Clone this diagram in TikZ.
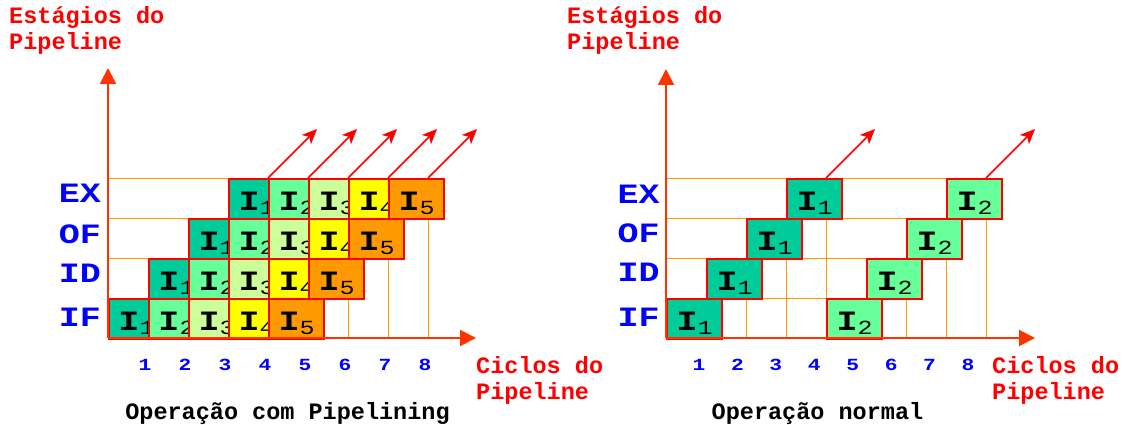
\documentclass[tikz,border=0pt]{standalone}
\usepackage{fontspec}
\setmainfont{Liberation Mono}
\newfontfamily\widemono{Liberation Mono}[FakeStretch=1.25]
\usetikzlibrary{arrows.meta}
\definecolor{axisc}{HTML}{FF3300}
\definecolor{gridc}{HTML}{FF9900}
\definecolor{cellborder}{HTML}{FF0000}
\definecolor{cA}{HTML}{00CC99}
\definecolor{cB}{HTML}{66FF99}
\definecolor{cC}{HTML}{CCFF99}
\definecolor{cD}{HTML}{FFFF00}
\definecolor{cE}{HTML}{FF9900}
\definecolor{lblue}{HTML}{0000FF}
\definecolor{lred}{HTML}{FF0000}
\newcommand\Isub[1]{I\raisebox{-4pt}{\fontsize{20}{20}\selectfont\mdseries #1}}
\tikzset{
  cell/.style={draw=cellborder, line width=2pt, minimum width=55pt, minimum height=40pt,
    inner sep=0pt, anchor=north west, text height=26pt, text depth=3.4pt, text=black,
    font=\widemono\bfseries\fontsize{28}{28}\selectfont},
  gridline/.style={draw=gridc, line width=1pt},
  axis/.style={draw=axisc, line width=2pt, -{Triangle[length=16pt,width=16pt]}},
  outarrow/.style={draw=red, line width=1.6pt, -{Stealth[length=15pt,width=13pt,inset=4pt]}},
  stage/.style={text=lblue, font=\widemono\bfseries\fontsize{28}{28}\selectfont, inner sep=0pt, anchor=center},
  cyc/.style={text=lblue, font=\widemono\bfseries\fontsize{17}{17}\selectfont, inner sep=0pt, anchor=base},
  redlabel/.style={text=lred, font=\bfseries\fontsize{23.5}{26}\selectfont, inner sep=0pt, align=left, anchor=base west},
  caption/.style={text=black, font=\bfseries\fontsize{23.5}{26}\selectfont, inner sep=0pt, anchor=base},
}
\begin{document}
\begin{tikzpicture}[x=1pt,y=-1pt]
\useasboundingbox (0,0) rectangle (1142,425);

% ---------------- left diagram: with pipelining ----------------
% grid lines
\draw[gridline] (108,178) -- (228,178);
\draw[gridline] (108,218) -- (188,218);
\draw[gridline] (108,258) -- (148,258);
\draw[gridline] (348,298) -- (348,338);
\draw[gridline] (388,258) -- (388,338);
\draw[gridline] (428,218) -- (428,338);

% cells
\foreach \r/\y/\x in {IF/298/108, ID/258/148, OF/218/188, EX/178/228}{
  \foreach \k/\c in {1/cA, 2/cB, 3/cC, 4/cD, 5/cE}{
    \node[cell, fill=\c] (L-\r-\k) at ({\x+40*(\k-1)},\y) {\Isub{\k}};
  }
}

% stage labels
\node[stage] (L-sEX) at (80,193.5) {EX};
\node[stage] (L-sOF) at (80,234.5) {OF};
\node[stage] (L-sID) at (80,273.5) {ID};
\node[stage] (L-sIF) at (80,317.5) {IF};

% cycle numbers
\foreach \k in {1,...,8}{
  \node[cyc] (L-n\k) at ({145+40*(\k-1)},370) {\k};
}

% outgoing arrows
\foreach \k in {1,...,5}{
  \coordinate (L-out\k) at ({317+40*(\k-1)},129);
  \draw[outarrow] ([xshift=40pt]L-EX-\k.north west) -- (L-out\k);
}

% axes
\coordinate (L-o) at (108,338);
\coordinate (L-ytip) at (108,68);
\coordinate (L-xtip) at (476,338);
\draw[axis] (L-o) -- (L-ytip);
\draw[axis] (L-o) -- (L-xtip);

\node[redlabel] (L-ytitle) at (9,50) {Estágios do\\Pipeline};
\node[redlabel] (L-xtitle) at (476,399) {Ciclos do\\Pipeline};
\node[caption] (L-cap) at (287.5,419.5) {Operação com Pipelining};

% ---------------- right diagram: normal operation ----------------
\draw[gridline] (666,178) -- (946,178);
\draw[gridline] (666,218) -- (906,218);
\draw[gridline] (666,258) -- (866,258);
\draw[gridline] (666,298) -- (826,298);
\draw[gridline] (746,298) -- (746,338);
\draw[gridline] (786,258) -- (786,338);
\draw[gridline] (826,218) -- (826,338);
\draw[gridline] (906,298) -- (906,338);
\draw[gridline] (946,258) -- (946,338);
\draw[gridline] (986,218) -- (986,338);

\foreach \r/\y/\x in {IF/298/666, ID/258/706, OF/218/746, EX/178/786}{
  \node[cell, fill=cA] (R-\r-1) at (\x,\y) {\Isub{1}};
  \node[cell, fill=cB] (R-\r-2) at ({\x+160},\y) {\Isub{2}};
}

\node[stage] (R-sEX) at (638.5,194) {EX};
\node[stage] (R-sOF) at (638.5,233) {OF};
\node[stage] (R-sID) at (638.5,272.5) {ID};
\node[stage] (R-sIF) at (638.5,317.5) {IF};

\foreach \k in {1,...,8}{
  \node[cyc] (R-n\k) at ({699+38.43*(\k-1)},370) {\k};
}

\coordinate (R-out1) at (875,129);
\coordinate (R-out2) at (1035,129);
\draw[outarrow] ([xshift=40pt]R-EX-1.north west) -- (R-out1);
\draw[outarrow] ([xshift=40pt]R-EX-2.north west) -- (R-out2);

\coordinate (R-o) at (666,338);
\coordinate (R-ytip) at (666,69);
\coordinate (R-xtip) at (1035,338);
\draw[axis] (R-o) -- (R-ytip);
\draw[axis] (R-o) -- (R-xtip);

\node[redlabel] (R-ytitle) at (567,50) {Estágios do\\Pipeline};
\node[redlabel] (R-xtitle) at (992,399) {Ciclos do\\Pipeline};
\node[caption] (R-cap) at (817.5,419.5) {Operação normal};
\end{tikzpicture}
\end{document}
